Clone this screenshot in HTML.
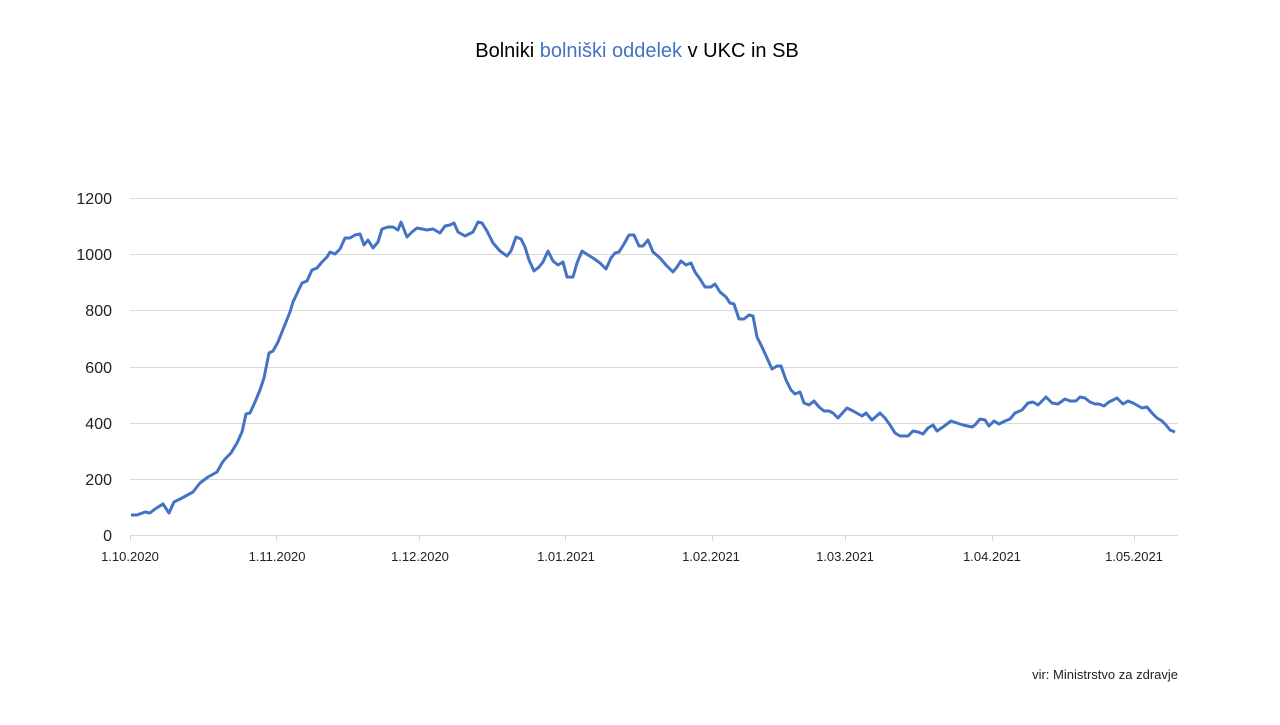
<!DOCTYPE html>
<html><head><meta charset="utf-8"><style>
body{margin:0;background:#fff;width:1280px;height:720px;overflow:hidden}
svg{font-family:"Liberation Sans",Arial,sans-serif}
</style></head><body>
<svg width="1280" height="720" viewBox="0 0 1280 720">
<text x="637" y="57" font-size="20" text-anchor="middle" fill="#000">Bolniki <tspan fill="#4472c4">bolniški oddelek</tspan> v UKC in SB</text>
<g stroke="#d9d9d9" stroke-width="1">
<line x1="130" x2="1178" y1="198.5" y2="198.5"/><line x1="130" x2="1178" y1="254.5" y2="254.5"/>
<line x1="130" x2="1178" y1="310.5" y2="310.5"/><line x1="130" x2="1178" y1="367.5" y2="367.5"/>
<line x1="130" x2="1178" y1="423.5" y2="423.5"/><line x1="130" x2="1178" y1="479.5" y2="479.5"/>
<line x1="130" x2="1178" y1="535.5" y2="535.5"/>
<line x1="130.5" x2="130.5" y1="535" y2="541"/><line x1="276.5" x2="276.5" y1="535" y2="541"/>
<line x1="419.5" x2="419.5" y1="535" y2="541"/><line x1="565.5" x2="565.5" y1="535" y2="541"/>
<line x1="712.5" x2="712.5" y1="535" y2="541"/><line x1="845.5" x2="845.5" y1="535" y2="541"/>
<line x1="992.5" x2="992.5" y1="535" y2="541"/><line x1="1134.5" x2="1134.5" y1="535" y2="541"/>
</g>
<g font-size="16" fill="#222" text-anchor="end">
<text x="112" y="204">1200</text><text x="112" y="260">1000</text><text x="112" y="316">800</text>
<text x="112" y="373">600</text><text x="112" y="429">400</text><text x="112" y="485">200</text><text x="112" y="541">0</text>
</g>
<g font-size="13" fill="#222" text-anchor="middle">
<text x="130" y="561">1.10.2020</text><text x="277" y="561">1.11.2020</text><text x="420" y="561">1.12.2020</text>
<text x="566" y="561">1.01.2021</text><text x="711" y="561">1.02.2021</text><text x="845" y="561">1.03.2021</text>
<text x="992" y="561">1.04.2021</text><text x="1134" y="561">1.05.2021</text>
</g>
<polyline fill="none" stroke="#4472c4" stroke-width="3" stroke-linejoin="round" points="131,515 137,515 145,512 150,513 155,509 163,504 169,513 174,502 182,498 193,492 200,483 208,477 217,472 222,463 225,459 231,453 237,443 242,432 246,414 250,413 255,402 260,390 264,378 269,353 273,351 278,342 284,327 290,312 293,302 302,283 307,281 312,270 317,268 322,262 327,257 330,252 335,254 340,249 345,238 350,238 355,235 360,234 364,245 368,240 373,248 378,242 382,229 388,227 393,227 398,230 401,222 407,237 412,232 417,228 427,230 433,229 440,233 445,226 450,225 454,223 458,232 465,236 473,232 478,222 482,223 487,231 493,243 500,251 507,256 511,251 516,237 521,239 525,247 529,260 534,271 539,267 543,262 548,251 553,261 558,265 563,262 567,277 573,277 577,263 582,251 588,255 593,258 600,263 606,269 611,258 615,253 619,252 624,244 629,235 634,235 639,246 643,246 648,240 653,252 660,258 666,265 673,272 677,267 681,261 686,265 691,263 695,272 700,279 705,287 711,287 715,284 720,292 726,297 730,303 734,304 739,319 744,319 749,315 753,316 757,337 762,347 767,358 772,369 777,366 781,366 786,380 791,390 795,394 800,392 804,403 809,405 814,401 819,407 824,411 829,411 833,413 838,418 847,408 853,411 862,416 866,413 872,420 880,413 885,418 890,425 895,433 900,436 908,436 913,431 918,432 923,434 928,428 933,425 937,431 943,427 951,421 957,423 963,425 972,427 975,425 980,419 985,420 989,426 994,421 999,424 1005,421 1010,419 1015,413 1022,410 1028,403 1033,402 1038,405 1046,397 1052,403 1058,404 1065,399 1070,401 1076,401 1080,397 1085,398 1090,402 1095,404 1099,404 1104,406 1109,402 1117,398 1123,404 1128,401 1133,403 1142,408 1147,407 1152,413 1157,418 1162,421 1166,425 1170,430 1175,432"/>
<text x="1178" y="679" font-size="13" fill="#222" text-anchor="end">vir: Ministrstvo za zdravje</text>
</svg>
</body></html>
